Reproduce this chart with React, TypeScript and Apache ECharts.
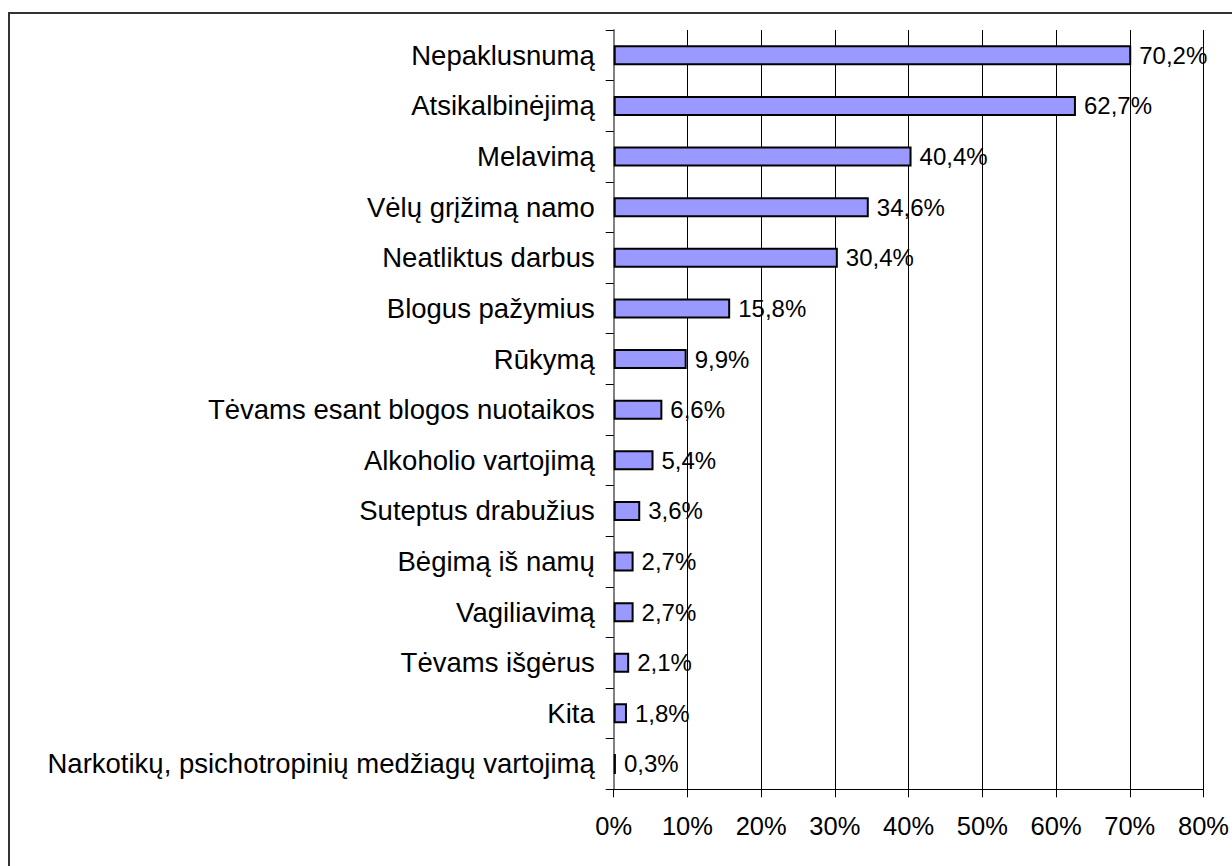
import React, { useEffect, useRef } from "react";
import * as echarts from "echarts";

const categories: string[] = [
  "Nepaklusnumą",
  "Atsikalbinėjimą",
  "Melavimą",
  "Vėlų grįžimą namo",
  "Neatliktus darbus",
  "Blogus pažymius",
  "Rūkymą",
  "Tėvams esant blogos nuotaikos",
  "Alkoholio vartojimą",
  "Suteptus drabužius",
  "Bėgimą iš namų",
  "Vagiliavimą",
  "Tėvams išgėrus",
  "Kita",
  "Narkotikų, psichotropinių medžiagų vartojimą",
];

const values: number[] = [70.2, 62.7, 40.4, 34.6, 30.4, 15.8, 9.9, 6.6, 5.4, 3.6, 2.7, 2.7, 2.1, 1.8, 0.3];

const xMin = 0;
const xMax = 80;
const xStep = 10;

const FONT = "'Liberation Sans', Arial, sans-serif";

export default function App() {
  const ref = useRef<HTMLDivElement>(null);
  useEffect(() => {
    if (!ref.current) return;
    const chart = echarts.init(ref.current, undefined, { renderer: "svg" });
    chart.setOption({
      animation: false,
      backgroundColor: "#ffffff",
      textStyle: { fontFamily: FONT },
      graphic: [
        {
          type: "rect",
          shape: { x: 9, y: 13, width: 1300, height: 1000 },
          style: { fill: "none", stroke: "#333333", lineWidth: 2 },
          silent: true,
          z: 0,
        },
      ],
      grid: { left: 613.7, right: 26.7, top: 30, bottom: 76.7, containLabel: false },
      xAxis: {
        type: "value",
        min: xMin,
        max: xMax,
        interval: xStep,
        axisLine: { show: true, lineStyle: { color: "#000", width: 1 } },
        axisTick: { show: true, length: 8, inside: false, lineStyle: { color: "#000", width: 1 } },
        splitLine: { show: true, lineStyle: { color: "#000", width: 1 } },
        axisLabel: {
          formatter: "{value}%",
          fontSize: 25.5,
          color: "#000",
          fontFamily: FONT,
          margin: 24,
        },
      },
      yAxis: {
        type: "category",
        data: categories,
        inverse: true,
        axisLine: { show: true, lineStyle: { color: "#808080", width: 2 } },
        axisTick: { show: true, length: 8, alignWithLabel: false, lineStyle: { color: "#000", width: 1 } },
        splitLine: { show: false },
        axisLabel: {
          fontSize: 27.5,
          color: "#000",
          fontFamily: FONT,
          margin: 19,
          interval: 0,
        },
      },
      series: [
        {
          type: "bar",
          data: values,
          barWidth: 20,
          itemStyle: { color: "#9999FF", borderColor: "#000", borderWidth: 2 },
          label: {
            show: true,
            position: "right",
            distance: 8,
            fontSize: 24,
            color: "#000",
            fontFamily: FONT,
            formatter: (p: any) => String(p.value).replace(".", ",") + "%",
          },
        },
      ],
    });
    return () => chart.dispose();
  }, []);
  return (
    <div
      ref={ref}
      style={{ position: "fixed", left: 0, top: 0, width: 1232, height: 866, background: "#fff" }}
    />
  );
}
